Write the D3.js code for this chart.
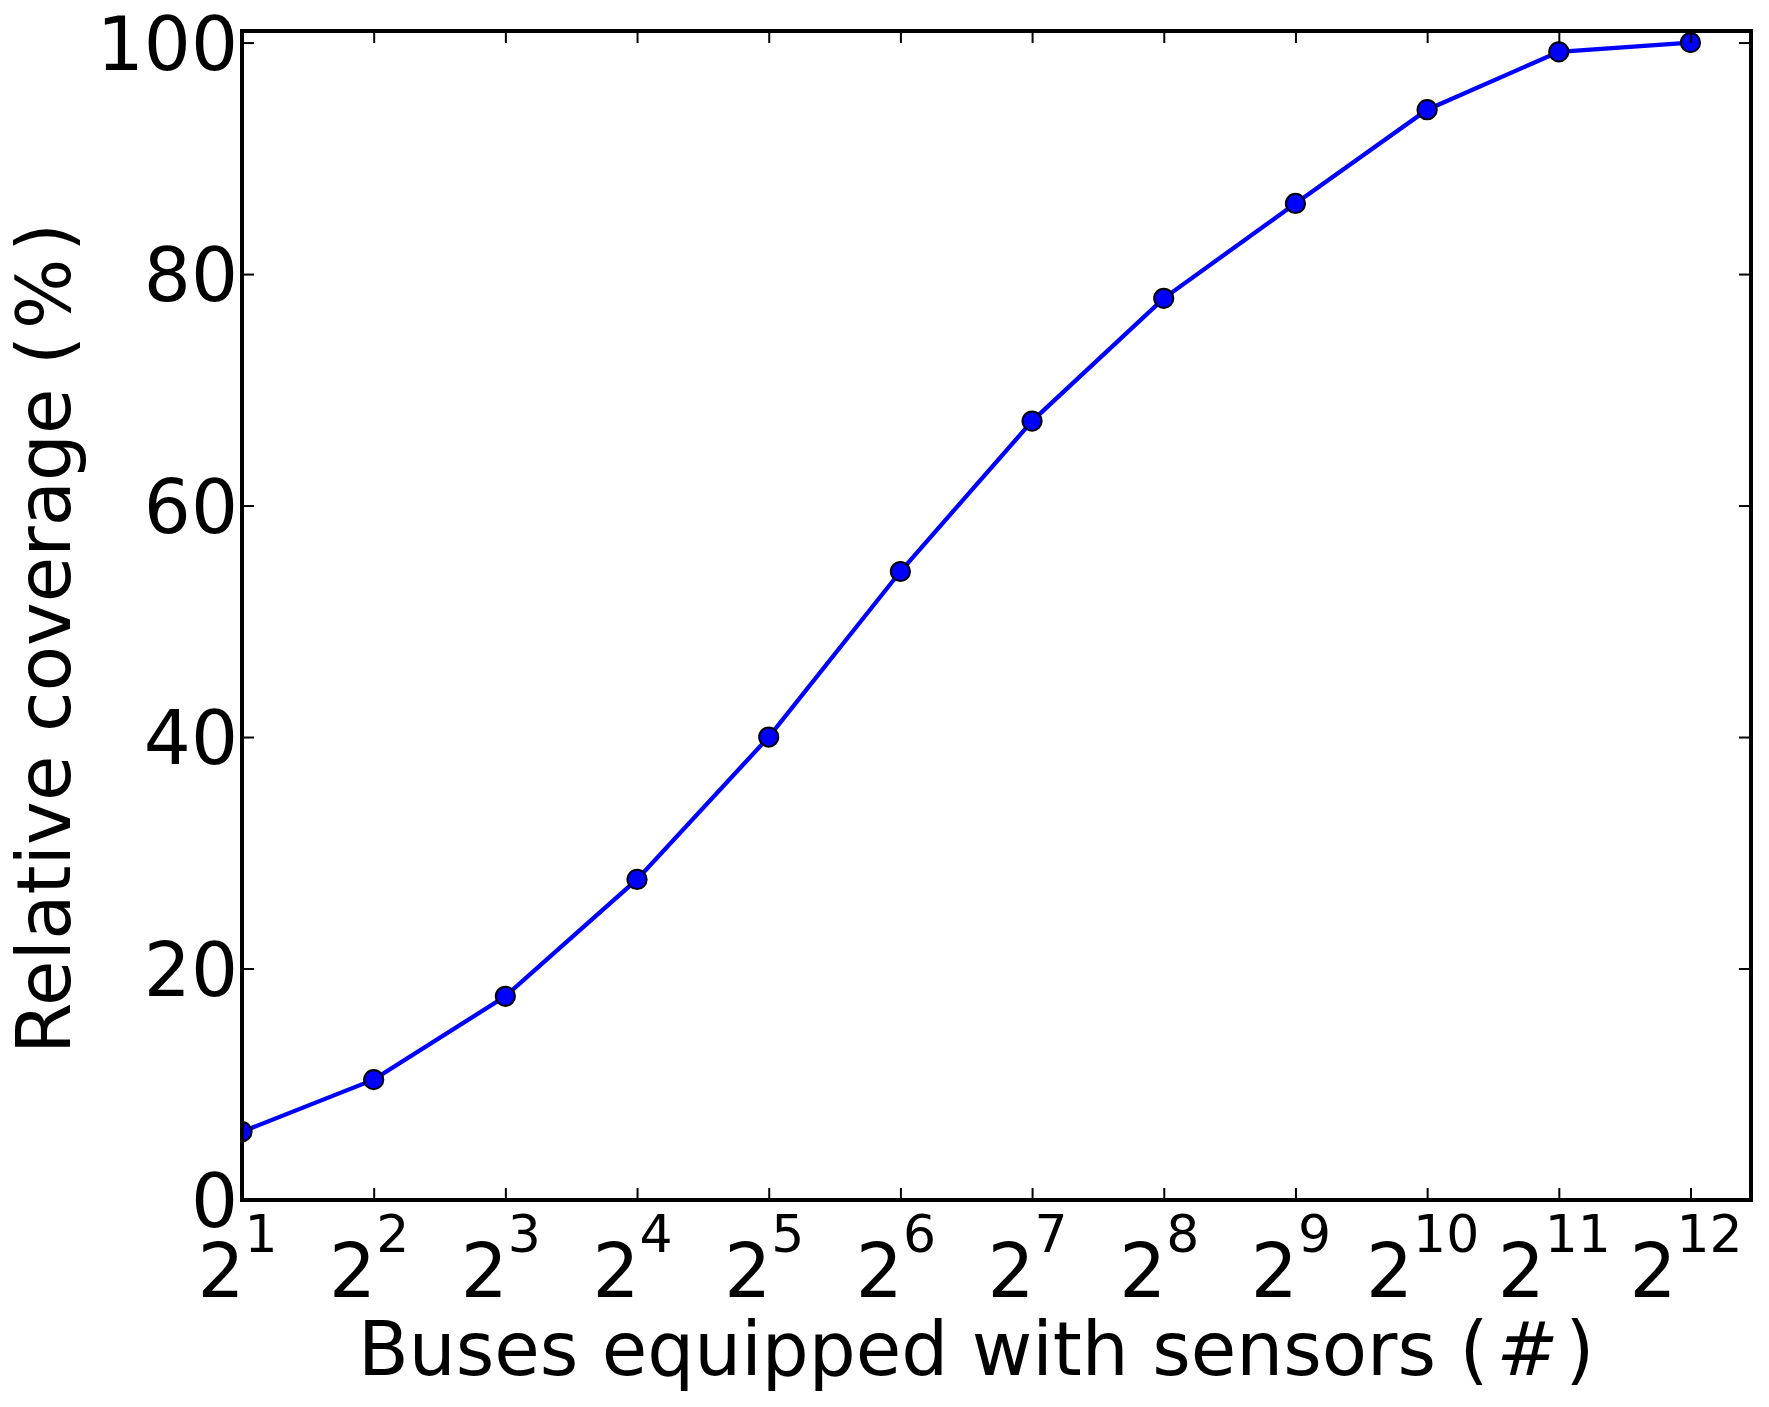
<!DOCTYPE html>
<head>
  <meta charset="utf-8">
  <title>Relative coverage vs buses</title>
  <script src="https://d3js.org/d3.v7.min.js"></script>
  <style>
    body { margin: 0; background: #fff; }
    text { font-family: "DejaVu Sans", sans-serif; fill: #000; }
  </style>
</head>
<body>
<div id="chart"></div>
<script>

// data
var exponents = [1, 2, 3, 4, 5, 6, 7, 8, 9, 10, 11, 12];
var buses = exponents.map(function (e) { return Math.pow(2, e); });
var coverage = [5.9, 10.4, 17.6, 27.7, 40.0, 54.3, 67.3, 77.9, 86.1, 94.2, 99.2, 100.0];
var yTicks = [0, 20, 40, 60, 80, 100];

var W = 1769, H = 1407;
var margin = {top: 31, right: 18, bottom: 207, left: 242};
var width = W - margin.left - margin.right;
var height = H - margin.top - margin.bottom;

var svg = d3.select("#chart").append("svg")
    .attr("width", W)
    .attr("height", H);

svg.append("rect").attr("width", W).attr("height", H).attr("fill", "#fff");

var g = svg.append("g")
    .attr("transform", "translate(" + margin.left + "," + margin.top + ")");

// x is log base 2, y linear
var x = d3.scaleLog().base(2)
    .domain([2, 5632])
    .range([0, width]);

var y = d3.scaleLinear()
    .domain([0, 101])
    .range([height, 0]);

g.append("clipPath").attr("id", "clip")
  .append("rect").attr("width", width).attr("height", height);

var plot = g.append("g").attr("clip-path", "url(#clip)");

var line = d3.line()
    .x(function (d, i) { return x(buses[i]); })
    .y(function (d) { return y(d); });

plot.append("path")
    .datum(coverage)
    .attr("d", line)
    .attr("fill", "none")
    .attr("stroke", "#0000ff")
    .attr("stroke-width", 4.3);

plot.selectAll("circle")
    .data(coverage)
    .enter()
    .append("circle")
      .attr("cx", function (d, i) { return x(buses[i]); })
      .attr("cy", function (d) { return y(d); })
      .attr("r", 9.6)
      .attr("fill", "#0000ff")
      .attr("stroke", "#000")
      .attr("stroke-width", 2);

// inward ticks on all four sides
function styleTicks(sel) {
  sel.select(".domain").remove();
  sel.selectAll(".tick line").attr("stroke", "#000").attr("stroke-width", 2);
}

var xBottom = g.append("g")
    .attr("transform", "translate(0," + height + ")")
    .call(d3.axisBottom(x).tickValues(buses).tickSize(-12).tickFormat(""))
    .call(styleTicks);

g.append("g")
    .call(d3.axisTop(x).tickValues(buses).tickSize(-12).tickFormat(""))
    .call(styleTicks);

var yLeft = g.append("g")
    .call(d3.axisLeft(y).tickValues(yTicks).tickSize(-12).tickFormat(""))
    .call(styleTicks);

g.append("g")
    .attr("transform", "translate(" + width + ",0)")
    .call(d3.axisRight(y).tickValues(yTicks).tickSize(-12).tickFormat(""))
    .call(styleTicks);

// tick labels: 2 with superscript exponent
xBottom.selectAll(".tick").each(function (d, i) {
  var t = d3.select(this).append("text")
      .attr("x", -5)
      .attr("y", 97)
      .attr("text-anchor", "middle")
      .style("font-size", "74px");
  t.append("tspan").text("2");
  t.append("tspan")
      .attr("dy", -45)
      .style("font-size", "52px")
      .text(exponents[i]);
});

yLeft.selectAll(".tick").append("text")
    .attr("x", -4)
    .attr("dy", "0.36em")
    .attr("text-anchor", "end")
    .style("font-size", "74px")
    .text(function (d) { return d; });

// frame
g.append("rect")
    .attr("width", width)
    .attr("height", height)
    .attr("fill", "none")
    .attr("stroke", "#000")
    .attr("stroke-width", 4);

// axis titles (the bracketed parts are spaced like mathtext)
var xt = svg.append("text")
    .attr("x", 358)
    .attr("y", 1375)
    .style("font-size", "74px");
xt.append("tspan").text("Buses equipped with sensors ");
xt.append("tspan").style("letter-spacing", "8px").text("(");
xt.append("tspan").style("font-style", "italic").style("letter-spacing", "7px").text("#");
xt.append("tspan").text(")");

var yt = svg.append("text")
    .attr("transform", "translate(70,1054) rotate(-90)")
    .style("font-size", "74px");
yt.append("tspan").text("Relative coverage ");
yt.append("tspan").style("letter-spacing", "7px").text("(%");
yt.append("tspan").text(")");

</script>
</body>
